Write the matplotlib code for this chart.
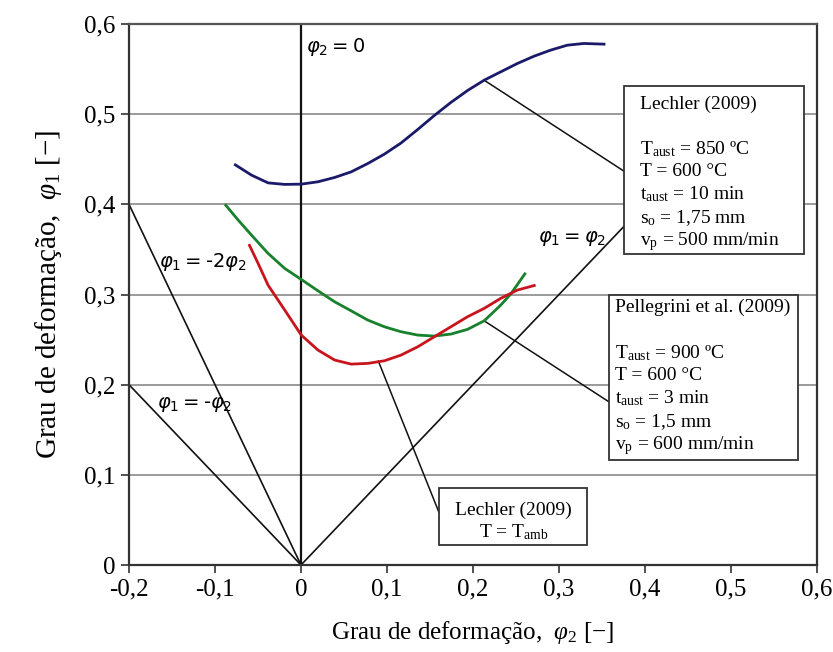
import matplotlib
matplotlib.use("Agg")
import matplotlib.pyplot as plt
from matplotlib.patches import Rectangle

plt.rcParams['font.family'] = ['Liberation Serif', 'DejaVu Serif']
plt.rcParams['mathtext.fontset'] = 'custom'
plt.rcParams['mathtext.rm'] = 'Liberation Serif'
plt.rcParams['mathtext.it'] = 'Liberation Serif:italic'
plt.rcParams['mathtext.bf'] = 'Liberation Serif:bold'

# ---- data ----
xticks = [-0.2, -0.1, 0.0, 0.1, 0.2, 0.3, 0.4, 0.5, 0.6]
xtick_labels = ['-0,2', '-0,1', '0', '0,1', '0,2', '0,3', '0,4', '0,5', '0,6']
yticks = [0.0, 0.1, 0.2, 0.3, 0.4, 0.5, 0.6]
ytick_labels = ['0', '0,1', '0,2', '0,3', '0,4', '0,5', '0,6']

# Lechler (2009), T = 600 °C (blue)
blue_x = [-0.0777, -0.0576, -0.0383, -0.0189, 0.0003, 0.0197, 0.0391, 0.0583, 0.0777,
          0.0970, 0.1163, 0.1357, 0.1550, 0.1743, 0.1936, 0.2130, 0.2322, 0.2516,
          0.2710, 0.2902, 0.3096, 0.3289, 0.3540]
blue_y = [0.4446, 0.4324, 0.4238, 0.4221, 0.4224, 0.4250, 0.4298, 0.4360, 0.4453,
          0.4557, 0.4680, 0.4830, 0.4985, 0.5130, 0.5262, 0.5377, 0.5469, 0.5562,
          0.5643, 0.5710, 0.5765, 0.5784, 0.5776]

# Pellegrini et al. (2009) (green)
green_x = [-0.0885, -0.0730, -0.0576, -0.0383, -0.0189, 0.0003, 0.0197, 0.0391, 0.0583,
           0.0777, 0.0970, 0.1163, 0.1357, 0.1550, 0.1743, 0.1936, 0.2130, 0.2322,
           0.2438, 0.2612]
green_y = [0.4002, 0.3825, 0.3659, 0.3456, 0.3289, 0.3167, 0.3041, 0.2919, 0.2819,
           0.2716, 0.2642, 0.2587, 0.2550, 0.2539, 0.2561, 0.2613, 0.2708, 0.2882,
           0.3004, 0.3241]

# Lechler (2009), T = Tamb (red)
red_x = [-0.0606, -0.0499, -0.0383, -0.0189, 0.0003, 0.0197, 0.0391, 0.0583, 0.0777,
         0.0970, 0.1163, 0.1357, 0.1550, 0.1743, 0.1936, 0.2130, 0.2322, 0.2516, 0.2728]
red_y = [0.3559, 0.3345, 0.3104, 0.2827, 0.2550, 0.2384, 0.2273, 0.2228, 0.2236,
         0.2265, 0.2328, 0.2420, 0.2531, 0.2642, 0.2753, 0.2846, 0.2957, 0.3049, 0.3104]

# strain-path reference lines
ref_lines = {
    'neg2': ([-0.2, 0.0], [0.4, 0.0]),
    'neg1': ([-0.2, 0.0], [0.2, 0.0]),
    'pos1': ([0.0, 0.4], [0.0, 0.4]),
}

box_lechler = ['Lechler (2009)', '',
               r'T$_{\mathrm{aust}}$ = 850 ºC',
               'T = 600 °C',
               r't$_{\mathrm{aust}}$ = 10 min',
               r's$_{\mathrm{o}}$ = 1,75 mm',
               r'v$_{\mathrm{p}}$ = 500 mm/min']
box_pell = ['Pellegrini et al. (2009)', '',
            r'T$_{\mathrm{aust}}$ = 900 ºC',
            'T = 600 °C',
            r't$_{\mathrm{aust}}$ = 3 min',
            r's$_{\mathrm{o}}$ = 1,5 mm',
            r'v$_{\mathrm{p}}$ = 600 mm/min']
box_amb = ['Lechler (2009)', r'T = T$_{\mathrm{amb}}$']

# ---- figure ----
fig = plt.figure(figsize=(8.33, 6.52), dpi=100)
ax = fig.add_axes([129/833, 87/652, 688/833, 541/652])
ax.set_xlim(-0.2, 0.6)
ax.set_ylim(0.0, 0.6)

for yv in yticks[1:-1]:
    ax.axhline(yv, color='#8a8a8a', lw=1.2, zorder=1)
ax.axvline(0.0, color='#111111', lw=1.6, zorder=2)

for key, (lx, ly) in ref_lines.items():
    ax.plot(lx, ly, color='#111111', lw=1.2, zorder=2)

curve_kw = dict(lw=2.0, zorder=3, solid_capstyle='butt', solid_joinstyle='round')
ax.plot(blue_x, blue_y, color='#1b1a6a', **curve_kw)
ax.plot(green_x, green_y, color='#17812b', **curve_kw)
ax.plot(red_x, red_y, color='#c8141c', **curve_kw)

# leader lines
ax.plot([0.213, 0.376], [0.5377, 0.4365], color='#111111', lw=1.1, zorder=2)
ax.plot([0.213, 0.358], [0.2708, 0.181], color='#111111', lw=1.1, zorder=2)
ax.plot([0.090, 0.161], [0.2260, 0.057], color='#111111', lw=1.1, zorder=2)

# boxes
def box(x0, y0, x1, y1):
    ax.add_patch(Rectangle((x0, y0), x1 - x0, y1 - y0, facecolor='white',
                           edgecolor='#333333', lw=1.3, zorder=5))

box(0.3755, 0.345, 0.585, 0.531)
box(0.358, 0.117, 0.578, 0.2995)
box(0.161, 0.022, 0.3327, 0.085)

ly_lech = [0.5105, None, 0.4608, 0.4365, 0.411, 0.3845, 0.359]
for t, yy in zip(box_lechler, ly_lech):
    if yy is not None:
        ax.text(0.394, yy, t, fontsize=14, ha='left', va='center', zorder=6)
ly_pell = [0.286, None, 0.2354, 0.210, 0.1845, 0.159, 0.1326]
for t, yy in zip(box_pell, ly_pell):
    if yy is not None:
        ax.text(0.365, yy, t, fontsize=14, ha='left', va='center', zorder=6)
for t, yy in zip(box_amb, [0.061, 0.0365]):
    ax.text(0.247, yy, t, fontsize=14, ha='center', va='center', zorder=6)

# strain path labels (sans math)
sans = dict(fontsize=14, family='DejaVu Sans', math_fontfamily='dejavusans', zorder=4)
ax.text(-0.165, 0.336, r'$\varphi_1 = $-2$\varphi_2$', ha='left', va='center', **sans)
ax.text(-0.168, 0.178, r'$\varphi_1 = $-$\varphi_2$', ha='left', va='center', **sans)
ax.text(0.275, 0.362, r'$\varphi_1 = \varphi_2$', ha='left', va='center', **sans)
ax.text(0.006, 0.574, r'$\varphi_2 = 0$', ha='left', va='center', **sans)

ax.set_xticks(xticks)
ax.set_xticklabels(xtick_labels, fontsize=18)
ax.set_yticks(yticks)
ax.set_yticklabels(ytick_labels, fontsize=18)
ax.tick_params(direction='out', length=6, width=1.2, color='#333333', pad=4)

for s in ax.spines.values():
    s.set_color('#333333')
    s.set_linewidth(1.6)
ax.spines['top'].set_color('#555555')

ax.set_xlabel(r'Grau de deformação,  $\varphi_2$ [−]', fontsize=18, labelpad=13)
ax.set_ylabel(r'Grau de deformação,  $\varphi_1$ [−]', fontsize=21, labelpad=14)

fig.savefig('out.png', dpi=100)
